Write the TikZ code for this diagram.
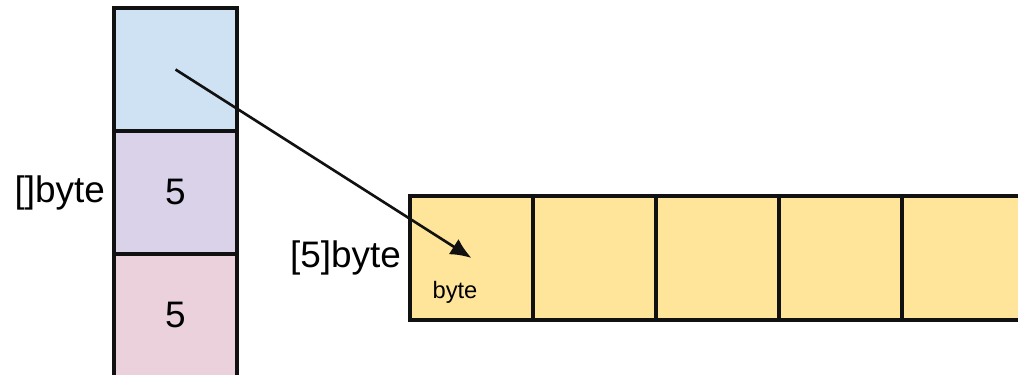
\documentclass[tikz,border=0pt]{standalone}
\usepackage{fontspec}
\setmainfont{Liberation Sans}
\usetikzlibrary{arrows.meta,positioning}
\definecolor{ptrblue}{HTML}{CFE2F3}
\definecolor{lenpurple}{HTML}{D9D2E9}
\definecolor{cappink}{HTML}{EAD1DC}
\definecolor{elemyellow}{HTML}{FFE599}
\definecolor{inkgray}{HTML}{111111}

\begin{document}
\begin{tikzpicture}[x=0.02cm, y=-0.02cm,
  every node/.style = {text=black},
  cell/.style = {shape=rectangle, draw=inkgray, line width=2pt,
    minimum width=2.46cm, minimum height=2.46cm,
    inner sep=0pt, outer sep=0pt, font=\fontsize{21}{21}\selectfont},
  elem/.style = {cell, fill=elemyellow, minimum height=2.48cm},
  typelbl/.style = {font=\fontsize{21}{21}\selectfont, inner sep=0pt},
  pointer/.style = {draw=inkgray, line width=1.5pt,
    -{Latex[length=0.42cm, width=0.36cm]}}]
  \useasboundingbox (0,0) rectangle (1018,375);
  \clip (0,0) rectangle (1018,375);
  % slice header
  \node[cell, fill=ptrblue] (ptr) at (175.5,69.5) {};
  \node[cell, fill=lenpurple, below=0pt of ptr] (len) {5};
  \node[cell, fill=cappink, below=0pt of len] (cap) {5};
  \node[typelbl, left=5pt of len] (slicelbl) {[]byte};
  % backing array
  \node[elem] (c1) at (471.5,258) {};
  \foreach \i [count=\j from 2] in {1,...,4}
    \node[elem, right=0pt of c\i] (c\j) {};
  \node[typelbl, left=5pt of c1] (arraylbl) {[5]byte};
  \node[font=\fontsize{13.5}{13.5}\selectfont, inner sep=0pt] (elemlbl) at (455,292) {byte};
  \draw[pointer] (ptr.center) -- (c1.center);
\end{tikzpicture}
\end{document}
